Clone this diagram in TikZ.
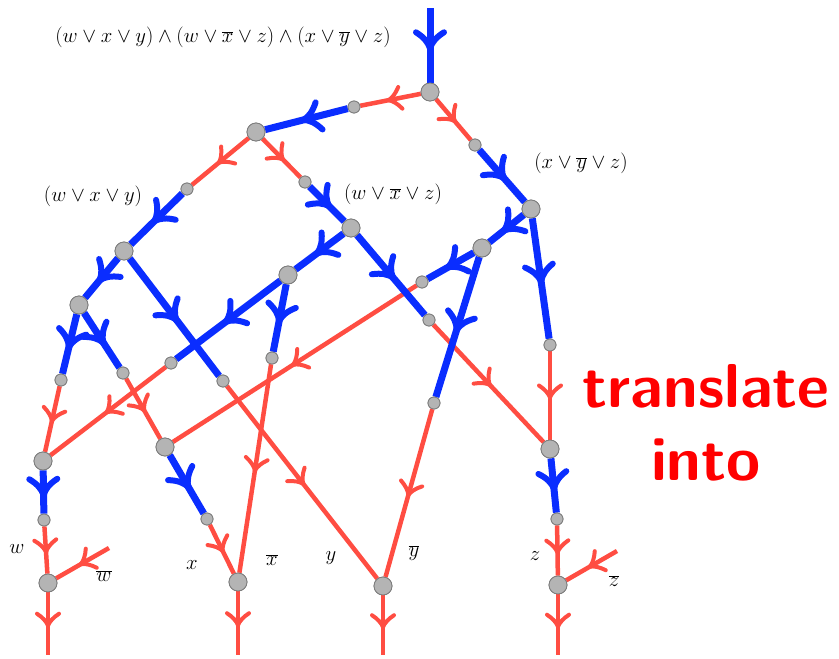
\documentclass[tikz,border=0pt]{standalone}
\usetikzlibrary{decorations.markings}
\definecolor{bl}{RGB}{10,45,255}
\definecolor{rd}{RGB}{255,77,66}
\definecolor{nd}{RGB}{180,180,180}
\definecolor{ndb}{RGB}{125,125,125}
\tikzset{
 bignode/.style={circle,fill=nd,draw=ndb,line width=0.8pt,minimum size=18pt,inner sep=0pt},
 smallnode/.style={circle,fill=nd,draw=ndb,line width=0.8pt,minimum size=12pt,inner sep=0pt},
 bedge/.style={draw=bl,line width=7pt,postaction={decorate},
   decoration={markings,mark=at position 0.5 with {\draw[bl,line width=6pt,line cap=round,line join=round]
     (-13pt,14pt) .. controls (-8pt,6pt) and (-3pt,2pt) .. (3pt,0pt) .. controls (-3pt,-2pt) and (-8pt,-6pt) .. (-13pt,-14pt);}}},
 redge/.style={draw=rd,line width=4.5pt,postaction={decorate},
   decoration={markings,mark=at position 0.5 with {\draw[rd,line width=4pt,line cap=round,line join=round]
     (-10pt,11pt) .. controls (-6pt,5pt) and (-2pt,1.5pt) .. (2pt,0pt) .. controls (-2pt,-1.5pt) and (-6pt,-5pt) .. (-10pt,-11pt);}}},
 lab/.style={font=\fontsize{20}{24}\selectfont,inner sep=0pt},
 big/.style={font=\fontsize{62}{66}\selectfont\sffamily\bfseries,text=red,inner sep=0pt,anchor=base}
}
\begin{document}
\begin{tikzpicture}[x=1pt,y=-1pt]
\useasboundingbox (0,0) rectangle (839,659);
% nodes
\node[bignode] (A) at (430,92) {};
\node[smallnode] (s1) at (354,107) {};
\node[bignode] (B) at (256,132) {};
\node[smallnode] (s2) at (475,145) {};
\node[bignode] (C) at (531,209) {};
\node[smallnode] (s3) at (187,189) {};
\node[smallnode] (s4) at (305,182) {};
\node[bignode] (D) at (124,251) {};
\node[bignode] (E) at (351,228) {};
\node[bignode] (F) at (79,305) {};
\node[smallnode] (s5) at (223,381) {};
\node[smallnode] (s6) at (61,380) {};
\node[smallnode] (s7) at (123,373) {};
\node[bignode] (G) at (43,461) {};
\node[bignode] (H) at (165,447) {};
\node[bignode] (I) at (288,275) {};
\node[smallnode] (s8) at (429,320) {};
\node[smallnode] (s9) at (171,363) {};
\node[smallnode] (s10) at (272,358) {};
\node[bignode] (L) at (482,248) {};
\node[smallnode] (s11) at (550,345) {};
\node[smallnode] (s12) at (422,282) {};
\node[smallnode] (s13) at (434,403) {};
\node[bignode] (J) at (550,449) {};
\node[smallnode] (s14) at (557,519) {};
\node[smallnode] (s15) at (44,520) {};
\node[smallnode] (s16) at (207,519) {};
\node[bignode] (P) at (48,583) {};
\node[bignode] (K) at (238,582) {};
\node[bignode] (M) at (383,586) {};
\node[bignode] (N) at (558,585) {};
\coordinate (top) at (430,8);
\coordinate (pout) at (48,655);
\coordinate (kout) at (238,655);
\coordinate (mout) at (383,655);
\coordinate (nout) at (558,655);
\coordinate (wb) at (109,548);
\coordinate (zb) at (617,551);
% red edges
\foreach \a/\b in {A/s1,A/s2,B/s3,B/s4,s5/M,s6/G,s7/H,s8/J,s9/G,s10/K,s11/J,s12/H,s13/M,s15/P,s16/K,wb/P,zb/N,s14/N,P/pout,K/kout,M/mout,N/nout}
  \path[redge] (\a) -- (\b);
% blue edges
\foreach \a/\b in {top/A,s1/B,s2/C,s3/D,s4/E,D/F,D/s5,F/s6,F/s7,E/I,E/s8,I/s9,I/s10,C/L,C/s11,L/s12,L/s13,G/s15,H/s16,J/s14}
  \path[bedge] (\a) -- (\b);
% redraw nodes on top
\foreach \n in {A,B,C,D,E,F,G,H,I,L,J,P,K,M,N}
  \node[bignode] at (\n) {};
\foreach \n in {s1,s2,s3,s4,s5,s6,s7,s8,s9,s10,s11,s12,s13,s14,s15,s16}
  \node[smallnode] at (\n) {};
% labels
\node[lab] (f) at (223,37) {$(w\vee x\vee y)\wedge(w\vee \overline{x}\vee z)\wedge(x\vee \overline{y}\vee z)$};
\node[lab] (c1) at (93,196) {$(w\vee x\vee y)$};
\node[lab] (c2) at (393,194) {$(w\vee \overline{x}\vee z)$};
\node[lab] (c3) at (581,163) {$(x\vee \overline{y}\vee z)$};
\node[lab] (lw) at (17,549) {$w$};
\node[lab] (lwb) at (104,576) {$\overline{w}$};
\node[lab] (lx) at (192,565) {$x$};
\node[lab] (lxb) at (272,560) {$\overline{x}$};
\node[lab] (ly) at (331,558) {$y$};
\node[lab] (lyb) at (414,553) {$\overline{y}$};
\node[lab] (lz) at (535,556) {$z$};
\node[lab] (lzb) at (614,581) {$\overline{z}$};
\node[big] (t1) at (706,407) {translate};
\node[big] (t2) at (706,480) {into};
\end{tikzpicture}
\end{document}
